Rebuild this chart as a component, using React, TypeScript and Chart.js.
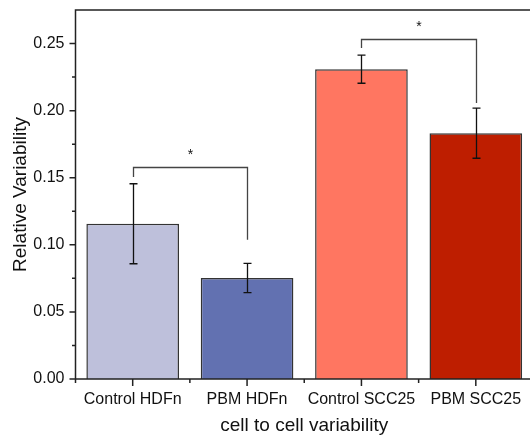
import React, { useEffect, useRef } from "react";
import { Chart, registerables } from "chart.js";

Chart.register(...registerables);

const categories = ["Control HDFn", "PBM HDFn", "Control SCC25", "PBM SCC25"];
const means = [0.1157, 0.0753, 0.2309, 0.1832];
const errors = [0.0298, 0.0109, 0.0105, 0.0187];
const barColors = ["#BEC0DB", "#6271B1", "#FF7661", "#BE1E00"];
const yTicks = [0, 0.05, 0.1, 0.15, 0.2, 0.25];
const yMinorTicks = [0.025, 0.075, 0.125, 0.175, 0.225];
const yMin = 0;
const yMax = 0.275;
const bracketLeft = [0, 2];
const bracketRight = [1, 3];
const bracketTop = [0.158, 0.2535];
const bracketLeftEnd = [0.1506, 0.2466];
const bracketRightEnd = [0.1037, 0.2056];
const starY = [0.1688, 0.2647];
const starLabel = ["*", "*"];

const FONT = "'Liberation Sans', Arial, sans-serif";

const overlay = {
  id: "overlay",
  afterDatasetsDraw(chart: any) {
    const ctx = chart.ctx;
    const xs = chart.scales.x;
    const ys = chart.scales.y;
    ctx.save();
    // error bars
    ctx.strokeStyle = "#111";
    ctx.lineWidth = 1.3;
    means.forEach((m, i) => {
      const cx = Math.round(xs.getPixelForValue(i)) + 0.5;
      const t = ys.getPixelForValue(m + errors[i]);
      const b = ys.getPixelForValue(m - errors[i]);
      ctx.beginPath();
      ctx.moveTo(cx, t);
      ctx.lineTo(cx, b);
      ctx.moveTo(cx - 4, t);
      ctx.lineTo(cx + 4, t);
      ctx.moveTo(cx - 4, b);
      ctx.lineTo(cx + 4, b);
      ctx.stroke();
    });
    // significance brackets
    ctx.strokeStyle = "#444";
    ctx.lineWidth = 1.3;
    bracketLeft.forEach((li, k) => {
      const ri = bracketRight[k];
      const lx = Math.round(xs.getPixelForValue(li)) + 0.5;
      const rx = Math.round(xs.getPixelForValue(ri)) + 0.5;
      const ty = Math.round(ys.getPixelForValue(bracketTop[k])) + 0.5;
      ctx.beginPath();
      ctx.moveTo(lx, ys.getPixelForValue(bracketLeftEnd[k]));
      ctx.lineTo(lx, ty);
      ctx.lineTo(rx, ty);
      ctx.lineTo(rx, ys.getPixelForValue(bracketRightEnd[k]));
      ctx.stroke();
      ctx.fillStyle = "#111";
      ctx.font = `14px ${FONT}`;
      ctx.textAlign = "center";
      ctx.textBaseline = "middle";
      ctx.fillText(starLabel[k], (lx + rx) / 2, ys.getPixelForValue(starY[k]) + 3);
    });
    ctx.restore();
  },
  afterDraw(chart: any) {
    const ctx = chart.ctx;
    const xs = chart.scales.x;
    const ys = chart.scales.y;
    const a = chart.chartArea;
    ctx.save();
    ctx.strokeStyle = "#222";
    ctx.lineWidth = 1.5;
    ctx.beginPath();
    // spines
    ctx.moveTo(a.left, a.top);
    ctx.lineTo(a.left, a.bottom);
    ctx.moveTo(a.left - 0.75, a.bottom);
    ctx.lineTo(a.right, a.bottom);
    ctx.lineTo(a.right, a.top);
    ctx.moveTo(a.left - 0.75, a.top);
    ctx.lineTo(a.right + 0.75, a.top);
    // y ticks
    yTicks.forEach((v) => {
      const py = ys.getPixelForValue(v);
      ctx.moveTo(a.left - 6, py);
      ctx.lineTo(a.left, py);
    });
    yMinorTicks.forEach((v) => {
      const py = ys.getPixelForValue(v);
      ctx.moveTo(a.left - 3.5, py);
      ctx.lineTo(a.left, py);
    });
    // x ticks
    categories.forEach((_, i) => {
      const px = xs.getPixelForValue(i);
      ctx.moveTo(px, a.bottom);
      ctx.lineTo(px, a.bottom + 7);
      const bx = xs.getPixelForValue(i - 0.5);
      ctx.moveTo(bx, a.bottom);
      ctx.lineTo(bx, a.bottom + 4);
    });
    const ex = xs.getPixelForValue(categories.length - 0.5);
    ctx.moveTo(ex, a.bottom);
    ctx.lineTo(ex, a.bottom + 4);
    ctx.stroke();
    ctx.restore();
  },
};

export default function App() {
  const ref = useRef<HTMLCanvasElement | null>(null);
  useEffect(() => {
    if (!ref.current) return;
    const chart = new Chart(ref.current, {
      type: "bar",
      data: {
        labels: categories,
        datasets: [
          {
            data: means,
            backgroundColor: barColors,
            borderColor: "#333",
            borderWidth: 1.5,
            barPercentage: 0.81,
            categoryPercentage: 1,
          },
        ],
      },
      options: {
        responsive: false,
        animation: false,
        devicePixelRatio: 1,
        layout: { padding: { left: 0, top: 10, right: 7, bottom: 0 } },
        plugins: { legend: { display: false }, tooltip: { enabled: false } },
        scales: {
          x: {
            type: "category",
            offset: true,
            grid: { display: false, drawTicks: false },
            border: { display: false },
            ticks: {
              color: "#111",
              font: { family: FONT, size: 16 },
              padding: 11,
              maxRotation: 0,
              autoSkip: false,
            },
            title: {
              display: true,
              text: "cell to cell variability",
              color: "#111",
              font: { family: FONT, size: 19 },
              padding: { top: 0, bottom: 1 },
            },
            afterFit: (s: any) => {
              s.height = 59;
              s.paddingLeft = 0;
              s.paddingRight = 0;
            },
          },
          y: {
            min: yMin,
            max: yMax,
            grid: { display: false, drawTicks: false },
            border: { display: false },
            afterBuildTicks: (s: any) => {
              s.ticks = yTicks.map((v) => ({ value: v }));
            },
            ticks: {
              color: "#111",
              font: { family: FONT, size: 16 },
              padding: 11,
              callback: (v: any) => Number(v).toFixed(2),
            },
            title: {
              display: true,
              text: "Relative Variability",
              color: "#111",
              font: { family: FONT, size: 19 },
              padding: { top: 9, bottom: 0 },
            },
            afterFit: (s: any) => {
              s.width = 75.5;
              s.paddingTop = 0;
              s.paddingBottom = 0;
            },
          },
        },
      },
      plugins: [overlay],
    } as any);
    return () => chart.destroy();
  }, []);
  return (
    <div
      style={{
        position: "absolute",
        left: 0,
        top: 0,
        width: 530,
        height: 438,
        overflow: "hidden",
        background: "#fff",
      }}
    >
      <canvas ref={ref} width={540} height={438} style={{ width: 540, height: 438, display: "block" }} />
    </div>
  );
}
